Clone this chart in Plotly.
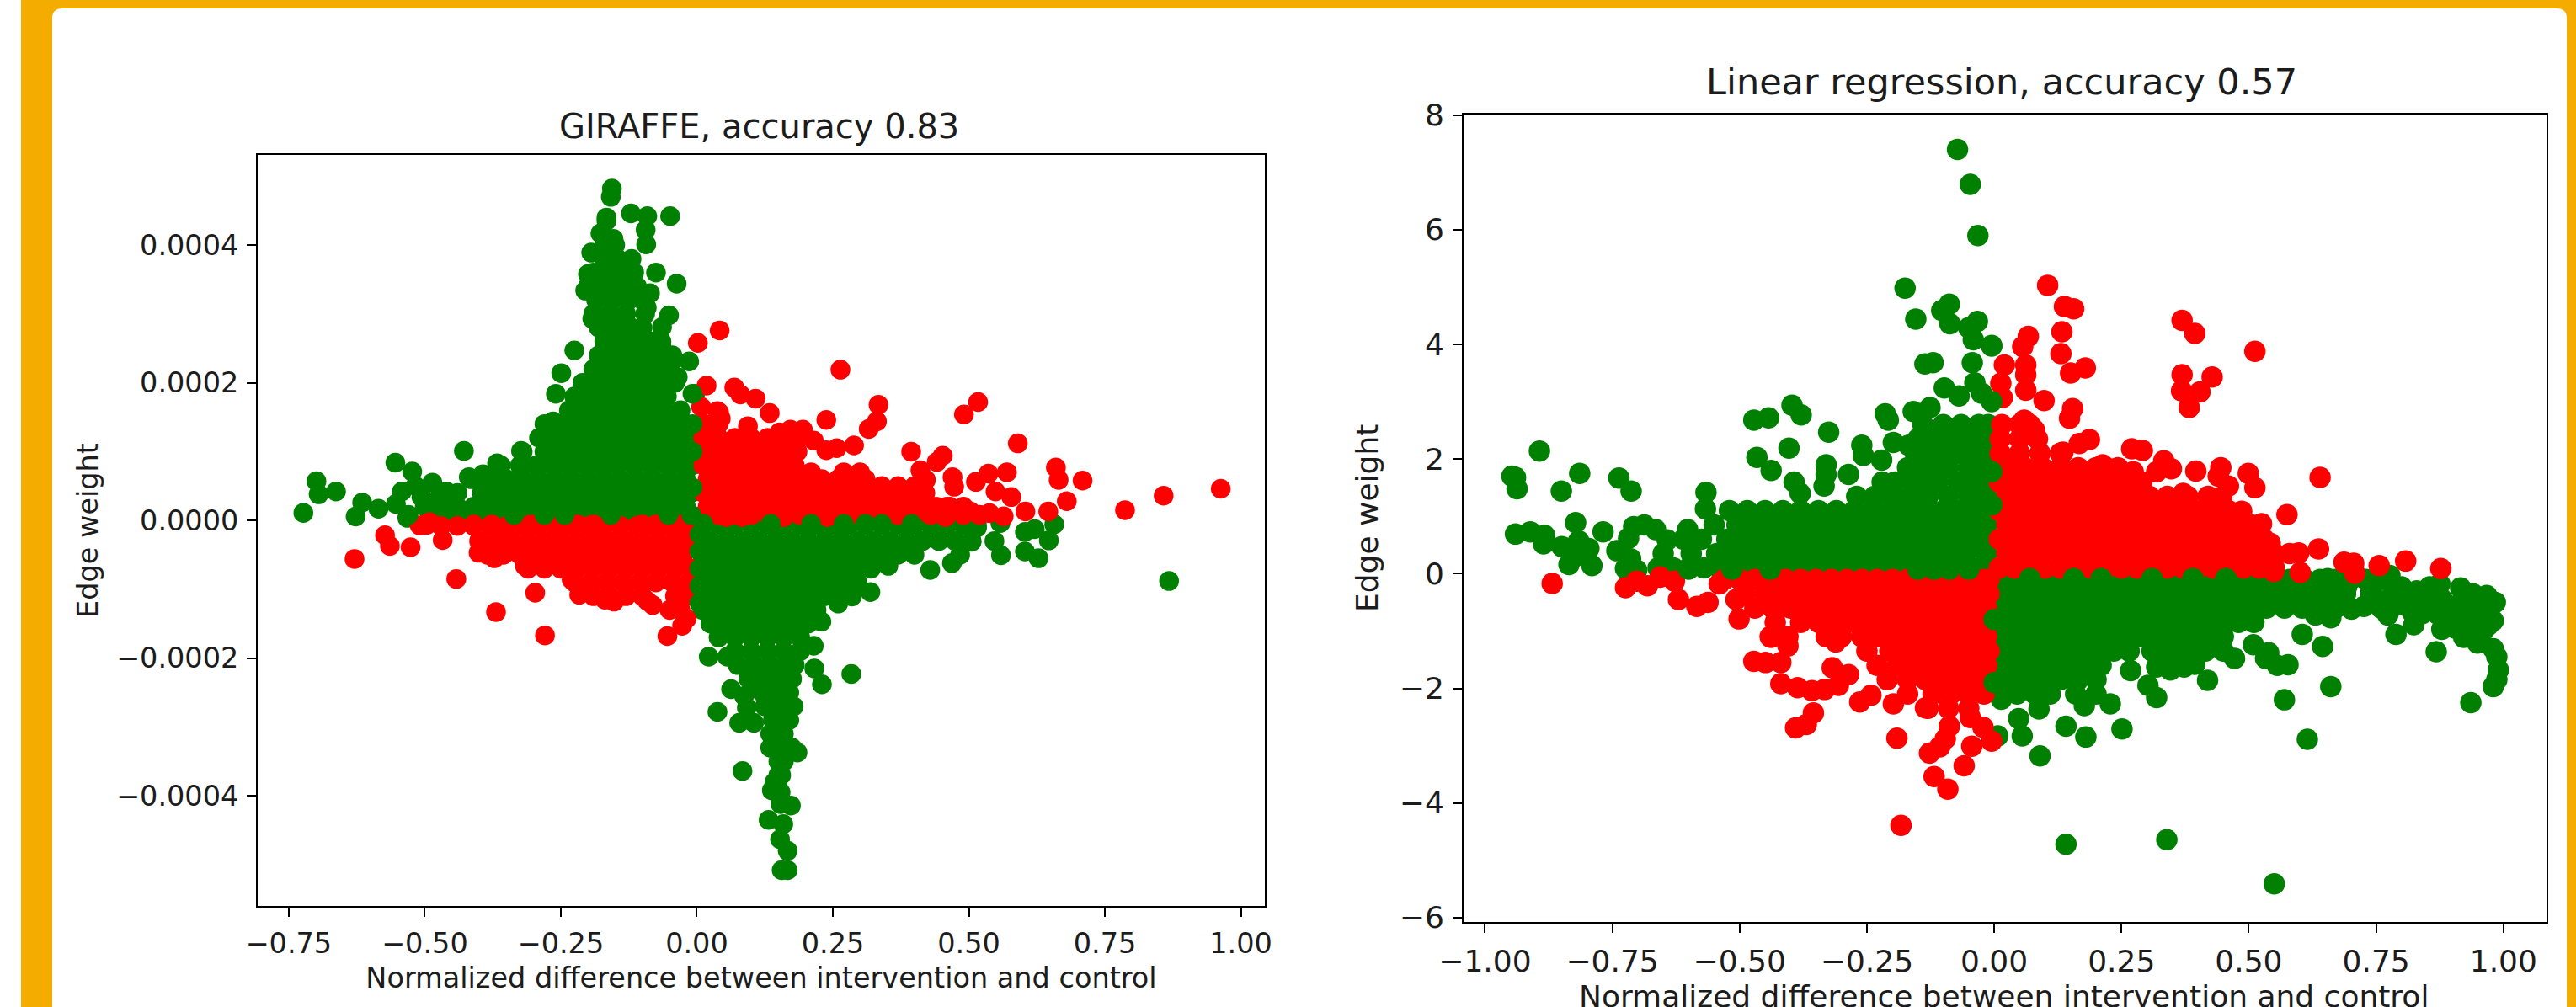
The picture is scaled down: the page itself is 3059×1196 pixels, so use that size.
import plotly.graph_objects as go

W, H = 3059, 1196
ORANGE = "#F4AC00"
GREEN = "#008000"
RED = "#FF0000"
INK = "#1c1c1c"

left_title = "GIRAFFE, accuracy 0.83"
right_title = "Linear regression, accuracy 0.57"
x_label = "Normalized difference between intervention and control"
y_label = "Edge weight"

left_x_ticks = [-0.75, -0.50, -0.25, 0.0, 0.25, 0.50, 0.75, 1.00]
left_x_text = ["−0.75", "−0.50", "−0.25", "0.00", "0.25", "0.50", "0.75", "1.00"]
left_y_ticks = [-0.0004, -0.0002, 0.0, 0.0002, 0.0004]
left_y_text = ["−0.0004", "−0.0002", "0.0000", "0.0002", "0.0004"]
right_x_ticks = [-1.0, -0.75, -0.50, -0.25, 0.0, 0.25, 0.50, 0.75, 1.00]
right_x_text = ["−1.00", "−0.75", "−0.50", "−0.25", "0.00", "0.25", "0.50", "0.75", "1.00"]
right_y_ticks = [-6, -4, -2, 0, 2, 4, 6, 8]
right_y_text = ["−6", "−4", "−2", "0", "2", "4", "6", "8"]

# Left panel: edge weight is written in units of 1e-5.  Each row is (weight, [differences]).
LEFT_UNIT = 1e-5
left_green_rows = [
    (40, [-.17, -.15]), (38, [-.17, -.145, -.12]), (36, [-.19, -.16, -.13, -.115]),
    (34, [-.2, -.17, -.14, -.11]), (32, [-.185, -.155, -.125, -.1]), (30, [-.19, -.16, -.13, -.095]),
    (28, [-.18, -.15, -.12, -.1]), (26, [-.17, -.14, -.11, -.08, -.065]),
    (24, [-.18, -.15, -.12, -.09, -.06, -.045]), (22, [-.19, -.16, -.13, -.10, -.07, -.05]),
    (20, [-.21, -.18, -.15, -.12, -.09, -.06, -.04]), (18, [-.225, -.195, -.165, -.135, -.105, -.075, -.055]),
    (16, [-.235, -.21, -.18, -.15, -.12, -.09, -.06, -.03]),
    (14, [-.28, -.25, -.22, -.19, -.16, -.13, -.10, -.07, -.04, -.02]),
    (12, [-.29, -.265, -.235, -.205, -.175, -.145, -.115, -.085, -.055, -.025, -.012]),
    (10, [-.32, -.28, -.25, -.22, -.19, -.16, -.13, -.10, -.07, -.04, -.01]),
    (8, [-.36, -.325, -.295, -.265, -.235, -.205, -.175, -.145, -.115, -.085, -.055, -.025, -.008]),
    (6, [-.415, -.38, -.35, -.32, -.29, -.26, -.23, -.20, -.17, -.14, -.11, -.08, -.05, -.02]),
    (4, [-.47, -.44, -.395, -.365, -.335, -.305, -.275, -.245, -.215, -.185, -.155, -.125, -.095, -.065, -.035, -.01]),
    (2, [-.50, -.47, -.44, -.41, -.38, -.35, -.32, -.29, -.26, -.23, -.20, -.17, -.14, -.11, -.08, -.05, -.02]),
    (.6, [-.49, -.46, -.43, -.40, -.37, -.34, -.31, -.28, -.25, -.22, -.19, -.16, -.13, -.10, -.07, -.04, -.01]),
    (-.7, [.01, .04, .07, .10, .13, .16, .19, .22, .25, .28, .31, .34, .37, .40, .43, .46, .49, .515]),
    (-3, [.025, .055, .085, .115, .145, .175, .205, .235, .265, .295, .325, .355, .385, .415, .445, .475, .505]),
    (-5, [.01, .04, .07, .10, .13, .16, .19, .22, .25, .28, .31, .34, .37, .40]),
    (-7, [.025, .055, .085, .115, .145, .175, .205, .235, .265, .295, .32]),
    (-9, [.01, .04, .07, .10, .13, .16, .19, .22, .25, .28, .295]),
    (-11, [.025, .055, .085, .115, .145, .175, .205, .235, .265]),
    (-13, [.01, .04, .07, .10, .13, .16, .19, .22]),
    (-15, [.025, .055, .085, .115, .145, .175, .205]),
    (-17, [.04, .07, .10, .13, .16, .19]), (-19, [.07, .10, .13, .16, .19]),
    (-21, [.075, .105, .135, .165, .18]), (-23, [.095, .125, .155, .175]),
    (-25, [.12, .145, .17]), (-27, [.125, .15, .178]), (-29, [.14, .17]), (-31, [.135, .16]),
    (-33, [.135, .16, .175]), (-35, [.15, .16]), (-37, [.15, .155]), (-39, [.15]),
]
left_green_single_x = [-.156, -.158, -.121, -.091, -.049, -.166, -.166, -.177, -.153, -.094, -.093, -.194, -.2, -.205,
    -.075, -.037, -.086, -.092, -.051, -.064, -.192, -.225, -.249, -.259, -.003, -.014, -.035, -.065, -.042,
    -.723, -.695, -.699, -.663, -.615, -.627, -.585, -.554, -.523, -.542, -.553, -.532, -.486, -.46, -.428, -.419,
    -.517, -.506, -.475, -.45, -.323, -.367, -.393, -.277, -.264,
    .558, .547, .559, .603, .621, .657, .647, .603, .628, .429, .469, .484, .505, .515, .352, .319, .285, .26, .229,
    .215, .216, .23, .284, .022, .056, .063, .087, .038, .078, .105, .185, .084, .138, .173, .154, .132, .159, .153,
    .167, .156, .167, .868, .092, .102, .154, .143]
left_green_single_y = [48.2, 47, 44.6, 44.2, 44.2, 44, 43.5, 41.7, 40.9, 42.2, 40.1, 38.9, 35.8, 33.4,
    36, 34.4, 33, 30.9, 29.8, 28.1, 29.3, 24.7, 21.4, 18.4, 18.4, 23.1, 20.8, 25.4, 23.4,
    1.1, 3.8, 5.7, 4.2, 2.6, .57, 1.7, 8.4, 7.1, 4.2, 2.4, .37, 5.5, 4.2, 10.1, 6.3,
    5, 3.4, 3, 1.8, 10.1, 8.3, 6.7, 13.8, 14.4,
    -.37, -3, -5.06, -1.67, -1.27, -.57, -2.9, -4.5, -5.5, -7.2, -6.2, -5, -3.1, -1.06, -6.6, -10.4, -11.05, -12.07, -14.7,
    -18.2, -21.5, -23.8, -22.3, -19.8, -19.8, -24.5, -25.5, -27.8, -29.4, -29.4, -33.7, -36.4, -39.2, -41.4, -41.2, -43.5, -44.1, -46.3,
    -48, -50.8, -50.8, -8.8, -27.2, -24.3, -39.5, -38]
left_red_rows = [
    (14, [.012, .04]), (12, [.012, .04, .07, .10, .13, .16, .185]), (10, [.02, .05, .08, .11, .14, .17, .185]),
    (8, [.012, .04, .07, .10, .13, .16, .18]), (7, [.21, .27, .30]),
    (6, [.02, .05, .08, .11, .14, .17, .20, .23, .26, .29, .31]), (5, [.34, .37, .40]),
    (4, [.012, .04, .07, .10, .13, .16, .19, .22, .25, .28, .31, .34, .37, .40, .42]),
    (2, [.02, .05, .08, .11, .14, .17, .20, .23, .26, .29, .32, .35, .38, .41, .44, .465, .49]),
    (.8, [.012, .04, .07, .10, .13, .16, .19, .22, .25, .28, .31, .34, .37, .40, .43, .46, .49, .52]),
    (-.8, [-.47, -.44, -.41, -.38, -.35, -.32, -.29, -.26, -.23, -.20, -.17, -.14, -.11, -.08, -.05, -.02]),
    (-3, [-.40, -.37, -.34, -.31, -.28, -.25, -.22, -.19, -.16, -.13, -.10, -.07, -.04, -.01]),
    (-5, [-.385, -.355, -.325, -.295, -.265, -.235, -.205, -.175, -.145, -.115, -.085, -.055, -.025]),
    (-7, [-.31, -.28, -.25, -.22, -.19, -.16, -.13, -.10, -.07, -.04, -.01]),
    (-9, [-.225, -.195, -.165, -.135, -.105, -.075, -.045, -.015]),
    (-11, [-.19, -.16, -.13, -.10, -.04, -.02]), (-13, [-.05, -.03]),
]
left_red_single_x = [.042, .002, .264, .018, .069, .08, .108, .334, .331, .316, .238, .517, .491, .134, .038, .094, .59,
    .394, .452, .441, .66, .665, .709, .57, .536, .513, .47, .473, .411, .421, .549, .578, .68, .604, .646, .787,
    .858, .963, .564, .538, .503, .46, .257, .289, .238, .215, .195, .172, .152, .008, .041, .044, .015, .035,
    -.629, -.573, -.564, -.526, -.467, -.496, -.509, -.491, -.442, -.369, -.297, -.279, -.054, -.027, -.019, -.216, -.169,
    -.152, -.081, -.091, -.401, -.372, -.316, -.28, -.23,
    -.5, -.41, -.377, -.305, -.25, -.22, -.19, -.1, -.075, -.03, .054, .083, .16, .24, .457]
left_red_single_y = [27.6, 25.8, 21.9, 19.6, 19.3, 18.3, 17.7, 16.8, 14.4, 13.3, 14.6, 17.2, 15.4, 15.6, 15.9, 13.7, 11.2,
    10, 9.4, 8.5, 7.7, 5.9, 5.8, 7, 6.8, 5.6, 6.3, 4.9, 7.3, 5.9, 4.2, 3.4, 2.8, 1.3, 1.3, 1.5,
    3.6, 4.6, .6, 1.07, 1.3, 2, 10.5, 10.9, 10.2, 11.6, 13.2, 13.2, 12.8, 16.5, 15.7, 14.8, 14, 13.2,
    -5.6, -2.16, -3.7, -3.9, -2.86, -.65, -.74, -.25, -8.5, -13.3, -10.5, -16.7, -16.8, -15.3, -14.3, -10.8, -11.5,
    -11.8, -12.3, -11.7, -4.7, -5.5, -6.6, -6.2, -8.6,
    -.6, -.6, -.6, -.6, -.6, -.6, -.6, -.6, -.6, -.6, .5, .5, .5, .5, .5]
left_edge_green_x = [-.53, -.336, -.28, -.243, -.158, -.052, -.01, .012, .136, .21, .27, .31, .34, .395,
    -.008, -.008, -.008, -.008, .005, .005, .005, .005, .005]
left_edge_green_y = [.8, .8, .8, .8, .8, .8, .8, -.5, -.5, -.5, -.5, -.5, -.5, -.5,
    18.4, 14, 10, 4.8, -2, -4.5, -7, -9.5, -12]

# Right panel: rows are (weight, [differences]).
right_green_rows = [
    (2.6, [-.14, -.10, -.065, -.03, -.012]), (2.35, [-.15, -.12, -.085, -.05, -.015]), (2.1, [-.155, -.125, -.105, -.07, -.035, -.01]),
    (1.85, [-.17, -.14, -.125, -.09, -.05, -.015]), (1.6, [-.22, -.195, -.16, -.13, -.11, -.07, -.035, -.01]),
    (1.35, [-.27, -.235, -.2, -.165, -.13, -.09, -.05, -.015]),
    (1.1, [-.52, -.485, -.45, -.415, -.38, -.345, -.31, -.275, -.24, -.205, -.17, -.135, -.10, -.07, -.035, -.01]),
    (.85, [-.55, -.505, -.47, -.435, -.4, -.365, -.33, -.295, -.26, -.225, -.19, -.155, -.12, -.085, -.05, -.015]),
    (.6, [-.61, -.575, -.525, -.49, -.455, -.42, -.385, -.35, -.315, -.28, -.245, -.21, -.175, -.14, -.105, -.07, -.035, -.01]),
    (.35, [-.65, -.595, -.545, -.51, -.475, -.44, -.405, -.37, -.335, -.3, -.265, -.23, -.195, -.16, -.125, -.09, -.055, -.015]),
    (.1, [-.66, -.63, -.60, -.57, -.54, -.51, -.48, -.45, -.42, -.39, -.36, -.33, -.30, -.27, -.24, -.21, -.18, -.15, -.12, -.09, -.06, -.03, -.01]),
    (-.1, [.01, .04, .07, .10, .13, .16, .19, .22, .25, .28, .31, .34, .37, .40, .43, .46, .49, .52, .55, .58, .61, .64, .67, .70, .73, .76]),
    (-.35, [.025, .06, .095, .13, .165, .2, .235, .27, .305, .34, .375, .41, .445, .48, .515, .55, .585, .62, .655, .69, .74]),
    (-.6, [.01, .045, .08, .115, .15, .185, .22, .255, .29, .325, .36, .395, .43, .465, .5, .535, .57, .605, .64, .67, .70]),
    (-.85, [.025, .06, .095, .13, .165, .2, .235, .27, .305, .34, .375, .41, .445, .48, .51]),
    (-1.1, [.01, .045, .08, .115, .15, .185, .22, .255, .29, .325, .36, .395, .43, .45]),
    (-1.35, [.025, .06, .095, .13, .165, .2, .235, .265, .31, .345, .38, .415, .45]),
    (-1.6, [.01, .045, .08, .115, .15, .185, .21, .33, .37]),
    (-1.85, [.025, .06, .095, .13, .165, .2]),
    (-2.1, [.01, .045, .08, .11, .16, .2]),
]
right_green_single_x = [-.072, -.047, -.032, -.175, -.154, -.088, -.103, -.087, -.033, -.05, -.041, -.005, -.136, -.12, -.043,
    -.038, -.098, -.069, -.025, -.397, -.379, -.472, -.443, -.325, -.214, -.208, -.159, -.126, -.403, -.466, -.438,
    -.26, -.257, -.221, -.198, -.168, -.33, -.33, -.334, -.286, -.393, -.381, -.566, -.567, -.893, -.947, -.94, -.937,
    -.814, -.85, -.737, -.713, -.94, -.911, -.883, -.885, -.822, -.768, -.849, -.816, -.796, -.835, -.82, -.79, -.741,
    -.708, -.687, -.665, -.642, -.718, -.714, -.724, -.702, -.602,
    .141, .339, .55, .615, .57, .661, .936, .868, .789, .605, .645, .577, .556, .539, .509, .533, .472, .419, .319, .302,
    .268, .251, .18, .141, .09, .055, .048, .007, .228, .177, .088, .014, .346, .373, .394, .319, .661, .631, .702,
    .773, .824, .879, .922, .949, .98, .987, .99, .987, .98, .98, .984, .967, .916, .875, .855, .949, .933, .899, .855,
    .824, .821, .777, .8, .74, .726, .692, .807, .95, .922,
    .75, .78, .76, .79, .83, .86, .88, .91, .94, .96, .97, .93, .905, .89, .87, .84, .92, .96]
right_green_single_y = [7.4, 6.79, 5.9, 4.98, 4.44, 4.7, 4.59, 4.36, 4.4, 4.29, 4.08, 3.97, 3.66, 3.68, 3.68,
    3.33, 3.24, 3.1, 3.15, 2.94, 2.77, 2.68, 2.72, 2.47, 2.79, 2.68, 2.83, 2.9, 2.19, 2.03, 1.8,
    2.24, 2.06, 1.98, 2.29, 2.24, 1.9, 1.73, 1.53, 1.73, 1.6, 1.4, 1.42, 1.13, 2.14, 1.7, 1.68, 1.48,
    1.75, 1.44, 1.67, 1.44, .69, .73, .67, .52, .89, .73, .47, .57, .44, .16, .31, .14, .4,
    .82, .85, .77, .59, .62, .26, .09, .06, .77,
    -4.72, -4.64, -5.41, -2.89, -2.2, -1.97, -2.25, -1.36, -1.06, -1.06, -1.27, -1.59, -1.6, -1.38, -1.24, -1.48, -1.48, -1.86, -2.16, -1.95,
    -1.69, -2.71, -2.85, -2.66, -3.18, -2.83, -2.53, -2.83, -2.27, -2.3, -2.36, -2.19, -1.68, -1.63, -1.58, -1.63, -.77, -.72, -.62,
    -.72, -.89, -.97, -1.11, -1.21, -1.31, -1.45, -1.68, -1.85, -1.97, -.82, -.5, -.38, -.25, -.18, -.23, -.77, -.57, -.72, -.57,
    -.47, -.67, -.03, -.23, -.28, -.57, -.23, -.47, -1.01, -.97,
    -.45, -.4, -.6, -.55, -.3, -.4, -.45, -.55, -.35, -.6, -.9, -.85, -.95, -.85, -.7, -.7, -.75, -1.0]
right_red_rows = [
    (2.6, [.015, .05, .07]), (2.35, [.012, .05, .085]), (2.1, [.012, .05, .09, .13]),
    (1.85, [.025, .06, .095, .13, .165, .2, .22]), (1.6, [.01, .045, .08, .115, .15, .185, .22, .255, .29]),
    (1.35, [.025, .06, .095, .13, .165, .2, .235, .27, .305, .34, .38, .42]),
    (1.1, [.01, .045, .08, .115, .15, .185, .22, .255, .29, .325, .36, .395, .43, .46]),
    (.85, [.025, .06, .095, .13, .165, .2, .235, .27, .305, .34, .375, .41, .445, .48, .505]),
    (.6, [.01, .045, .08, .115, .15, .185, .22, .255, .29, .325, .36, .395, .43, .465, .5, .53]),
    (.35, [.025, .06, .095, .13, .165, .2, .235, .27, .305, .34, .375, .41, .445, .48, .515, .55, .58]),
    (.1, [.01, .04, .07, .10, .13, .16, .19, .22, .25, .28, .31, .34, .37, .40, .43, .46, .49, .52, .55]),
    (-.1, [-.53, -.50, -.47, -.44, -.41, -.38, -.35, -.32, -.29, -.26, -.23, -.20, -.17, -.14, -.11, -.08, -.05, -.02, -.01]),
    (-.35, [-.49, -.45, -.415, -.38, -.345, -.31, -.275, -.24, -.205, -.17, -.135, -.10, -.065, -.03, -.01]),
    (-.6, [-.47, -.435, -.4, -.365, -.33, -.295, -.26, -.225, -.19, -.155, -.12, -.085, -.05, -.015]),
    (-.85, [-.43, -.38, -.345, -.31, -.275, -.24, -.205, -.17, -.135, -.10, -.065, -.03, -.01]),
    (-1.1, [-.44, -.405, -.33, -.30, -.26, -.225, -.19, -.155, -.12, -.085, -.05, -.015]),
    (-1.35, [-.25, -.205, -.17, -.135, -.10, -.065, -.03, -.01]), (-1.6, [-.23, -.19, -.155, -.12, -.085, -.05, -.015]),
    (-1.85, [-.21, -.17, -.135, -.10, -.065, -.03, -.01]), (-2.1, [-.17, -.12, -.085, -.05, -.02]),
    (-2.35, [-.13, -.09, -.05]),
]
right_red_single_x = [.105, .138, .156, .133, .131, .067, .056, .179, .15, .02, .062, .062, .013, .062, .098, .016, .154, .148,
    .059, .079, .369, .394, .512, .369, .428, .404, .368, .383, .187, .167, .135, .27, .291, .333, .319, .396, .445, .44,
    .499, .64, .512, .575, .525, .542, .637, .598, .687, .706, .756, .808, .877, .708, .601, .549, .213, .243, .273, .348,
    .371, .46, .447, .486, -.868, -.724, -.702, -.681, -.656, -.628, -.62, -.584, -.562, -.54, -.501, -.507, -.438, -.405,
    -.472, -.449, -.419, -.419, -.386, -.358, -.333, -.306, -.286, -.318, -.311, -.355, -.369, -.39, -.264, -.242, -.198,
    -.191, -.183, -.118, -.091, -.059, -.127, -.107, -.096, -.088, -.044, -.005, -.022, -.047, -.135]
right_red_single_y = [5.03, 4.66, 4.62, 4.22, 3.84, 4.14, 3.96, 3.59, 3.5, 3.64, 3.64, 3.47, 3.32, 3.2, 3.02, 3.07, 2.88, 2.71,
    2.68, 2.51, 4.42, 4.19, 3.88, 3.47, 3.43, 3.17, 3.19, 2.9, 2.34, 2.27, 2.12, 2.18, 2.15, 1.97, 1.78, 1.79, 1.85, 1.7,
    1.75, 1.68, 1.5, 1.03, .87, .53, .43, .36, .2, .18, .14, .22, .09, .01, .02, .04, 1.9, 1.85, 1.78, 1.83,
    1.4, 1.53, 1.34, 1.09, -.17, -.245, -.13, -.21, -.06, -.13, -.45, -.57, -.5, -.18, -.79, -.45, -1.11, -1.26,
    -1.53, -1.55, -1.55, -1.92, -1.99, -2.04, -2.02, -1.95, -1.76, -1.64, -1.19, -2.43, -2.63, -2.69, -2.24, -2.12, -2.27,
    -2.87, -4.39, -3.54, -3.76, -3.35, -3.13, -3.02, -2.88, -2.66, -3.01, -2.92, -2.68, -2.51, -2.34]
right_edge_green_x = [-.6, -.515, -.44, -.15, -.118, -.088, -.05, .07, .156, .21, .31, .39, .455, .655,
    -.005, -.005, -.005, -.005, 0.0, 0.0]
right_edge_green_y = [.08, .08, .08, .08, .08, .08, .08, -.085, -.085, -.085, -.085, -.085, -.085, -.085,
    3.98, 3.0, 1.78, 1.2, -.8, -1.9]


def expand(rows, single_x, single_y, unit=1.0):
    xs, ys = [], []
    for weight, diffs in rows:
        for d in diffs:
            xs.append(d)
            ys.append(weight * unit)
    xs.extend(single_x)
    ys.extend(v * unit for v in single_y)
    return xs, ys


def pts(x, y, xa, ya, color, size, name):
    return go.Scatter(x=x, y=y, xaxis=xa, yaxis=ya, mode="markers", name=name, showlegend=False,
                      hoverinfo="skip", marker=dict(color=color, size=size, line=dict(width=0)))


fig = go.Figure()
L_SIZE, R_SIZE = 23.5, 25.5
lgx, lgy = expand(left_green_rows, left_green_single_x, left_green_single_y, LEFT_UNIT)
lrx, lry = expand(left_red_rows, left_red_single_x, left_red_single_y, LEFT_UNIT)
legx, legy = expand([], left_edge_green_x, left_edge_green_y, LEFT_UNIT)
rgx, rgy = expand(right_green_rows, right_green_single_x, right_green_single_y)
rrx, rry = expand(right_red_rows, right_red_single_x, right_red_single_y)
regx, regy = expand([], right_edge_green_x, right_edge_green_y)
fig.add_trace(pts(lgx, lgy, "x", "y", GREEN, L_SIZE, "left green"))
fig.add_trace(pts(lrx, lry, "x", "y", RED, L_SIZE, "left red"))
fig.add_trace(pts(legx, legy, "x", "y", GREEN, L_SIZE, "left green front"))
fig.add_trace(pts(rgx, rgy, "x2", "y2", GREEN, R_SIZE, "right green"))
fig.add_trace(pts(rrx, rry, "x2", "y2", RED, R_SIZE, "right red"))
fig.add_trace(pts(regx, regy, "x2", "y2", GREEN, R_SIZE, "right green front"))


def fx(px):
    return px / W


def fy(py):
    return 1 - py / H


def axis(domain, rng, vals, text, font, title, standoff, anchor):
    return dict(domain=domain, range=rng, tickmode="array", tickvals=vals, ticktext=text, anchor=anchor,
                showgrid=False, zeroline=False, showline=True, mirror=True, linecolor="#000000", linewidth=2,
                ticks="outside", ticklen=11, tickwidth=2, tickcolor="#000000", automargin=False, ticklabelstandoff=3,
                tickfont=dict(family="DejaVu Sans", size=font, color=INK),
                title=dict(text=title, standoff=standoff, font=dict(family="DejaVu Sans", size=font, color=INK)))


L_FONT, R_FONT = 33.5, 36
fig.update_layout(
    width=W, height=H, autosize=False, margin=dict(l=0, r=0, t=0, b=0, pad=0, autoexpand=False),
    paper_bgcolor="#FFFFFF", plot_bgcolor="#FFFFFF",
    xaxis=axis([fx(306), fx(1502)], [-0.807, 1.044], left_x_ticks, left_x_text, L_FONT, x_label, 10, "y"),
    yaxis=axis([fy(1076), fy(184)], [-0.00056, 0.000531], left_y_ticks, left_y_text, L_FONT, y_label, 11, "x"),
    xaxis2=axis([fx(1738), fx(3023.6)], [-1.042, 1.084], right_x_ticks, right_x_text, R_FONT, "", 10, "y2"),
    yaxis2=axis([fy(1094.6), fy(136)], [-6.07, 8.01], right_y_ticks, right_y_text, R_FONT, y_label, 14, "x2"),
    shapes=[
        dict(type="rect", xref="paper", yref="paper", x0=fx(25), x1=1, y0=0, y1=1, layer="below",
             fillcolor=ORANGE, line=dict(width=0)),
        dict(type="path", xref="paper", yref="paper", layer="below", fillcolor="#FFFFFF", line=dict(width=0),
             path=(f"M {fx(62)} 0 L {fx(62)} {fy(22)} Q {fx(62)} {fy(10)} {fx(74)} {fy(10)} "
                   f"L {fx(3036)} {fy(10)} Q {fx(3048)} {fy(10)} {fx(3048)} {fy(22)} L {fx(3048)} 0 Z")),
    ],
    annotations=[
        dict(text=left_title, xref="paper", yref="paper", x=fx(901), y=fy(150), xanchor="center", yanchor="middle",
             showarrow=False, font=dict(family="DejaVu Sans", size=40, color=INK)),
        dict(text=right_title, xref="paper", yref="paper", x=fx(2377), y=fy(97), xanchor="center", yanchor="middle",
             showarrow=False, font=dict(family="DejaVu Sans", size=43, color=INK)),
        dict(text=x_label, xref="paper", yref="paper", x=fx(2379), y=fy(1183), xanchor="center", yanchor="middle",
             showarrow=False, font=dict(family="DejaVu Sans", size=R_FONT, color=INK)),
    ],
)

fig.write_html("out.html", config={"displayModeBar": False},
               post_script="document.body.style.margin='0';document.body.style.overflow='hidden';")
